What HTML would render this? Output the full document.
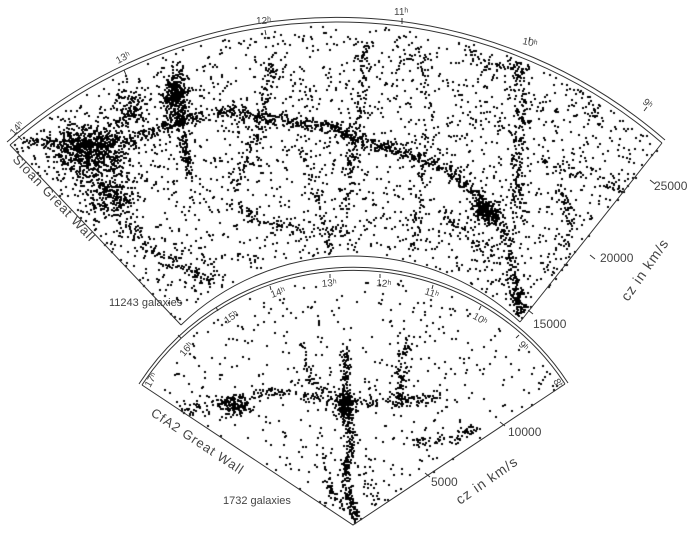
<!DOCTYPE html>
<html><head><meta charset="utf-8"><style>
html,body{margin:0;padding:0;background:#fff;}
#w{position:relative;width:694px;height:540px;overflow:hidden;}
canvas,svg{position:absolute;left:0;top:0;}
text{font-family:"Liberation Sans",sans-serif;fill:#444;}
</style></head><body><div id="w">
<canvas id="c" width="694" height="540"></canvas>
<svg width="694" height="540" viewBox="0 0 694 540">
<g fill="none" stroke="#333" stroke-width="1">
<path d="M10,145 A496.6,496.6 0 0 1 662,143"/>
<path d="M7,142 A499.6,499.6 0 0 1 665,140"/>
<path d="M181,325 A246.5,246.5 0 0 1 520,322"/>
<path d="M10,145 L181,325"/>
<path d="M662,143 L520,322"/>
<path d="M18,136 l4,4 M124,70 l2,5 M265,30 l1,5 M402,18 l0,6 M530,37 l-1,5 M647,107 l-3,4"/>
<path d="M650,180 l5,4 M590,255 l5,4 M528,310 l5,4"/>
<path d="M142,385 A253,253 0 0 1 565,384"/>
<path d="M139,384 A256,256 0 0 1 568,383"/>
<path d="M142,385 L353,525 L565,384"/>
<path d="M425,473 l5,4 M500,422 l5,4"/>
<path d="M330,274 l0,4 M380,274 l0,4 M270,286 l1,4 M433,285 l-1,4 M216,307 l2,4 M481,306 l-2,4 M178,335 l3,3 M519,335 l-3,3"/>
</g>
<g font-size="10">
<text transform="translate(14,136) rotate(-48)">14ʰ</text>
<text transform="translate(118,64) rotate(-28)">13ʰ</text>
<text x="256" y="24">12ʰ</text>
<text x="394" y="15">11ʰ</text>
<text transform="translate(522,44) rotate(12)">10ʰ</text>
<text transform="translate(642,103) rotate(40)">9ʰ</text>
<text transform="translate(150,388) rotate(-60)">17ʰ</text>
<text transform="translate(184,357) rotate(-50)">16ʰ</text>
<text transform="translate(227,324) rotate(-35)">15ʰ</text>
<text transform="translate(272,298) rotate(-20)">14ʰ</text>
<text transform="translate(322,287) rotate(-5)">13ʰ</text>
<text transform="translate(376,286) rotate(5)">12ʰ</text>
<text transform="translate(424,294) rotate(18)">11ʰ</text>
<text transform="translate(472,318) rotate(30)">10ʰ</text>
<text transform="translate(518,345) rotate(45)">9ʰ</text>
<text transform="translate(553,381) rotate(60)">8ʰ</text>
</g>
<g font-size="12">
<text transform="translate(12,160) rotate(46.5)" font-size="13" letter-spacing="1">Sloan Great Wall</text>
<text x="109" y="306" font-size="11">11243 galaxies</text>
<text x="654" y="190">25000</text>
<text x="600" y="262">20000</text>
<text x="533" y="328">15000</text>
<text transform="translate(628,302) rotate(-55)" font-size="14" letter-spacing="1">cz in km/s</text>
<text transform="translate(150,415) rotate(33.5)" font-size="13" letter-spacing="1">CfA2 Great Wall</text>
<text x="223" y="504" font-size="11">1732 galaxies</text>
<text x="508" y="436">10000</text>
<text x="431" y="486">5000</text>
<text transform="translate(460,505) rotate(-35)" font-size="14" letter-spacing="1">cz in km/s</text>
</g>
</svg>
</div>
<script>
var ctx=document.getElementById('c').getContext('2d');ctx.fillStyle='#000';
var s=12345;function r(){s=(s*1103515245+12345)%2147483648;return s/2147483648;}
function g(){return (r()+r()+r()-1.5)/1.5;}
function side(ax,ay,bx,by,x,y){return (bx-ax)*(y-ay)-(by-ay)*(x-ax);}
function inU(x,y){
 if(Math.hypot(x-336,y-518.6)>494)return false;
 if(Math.hypot(x-350.5,y-501.5)<249)return false;
 if(side(10,145,181,325,x,y)>0)return false;
 if(side(662,143,520,322,x,y)<0)return false;return true;}
function inL(x,y){
 if(Math.hypot(x-353,y-525)>250)return false;
 if(side(142,385,353,525,x,y)>0)return false;
 if(side(565,384,353,525,x,y)<0)return false;return true;}
function dot(x,y,f){if(f(x,y))ctx.fillRect(Math.round(x),Math.round(y),2,2);}
function bg(n,f,x0,y0,x1,y1){var k=0;while(k<n){var x=x0+r()*(x1-x0),y=y0+r()*(y1-y0);if(f(x,y)){dot(x,y,f);k++;}}}
function fil(pts,n,w,f){for(var i=0;i<pts.length-1;i++){var a=pts[i],b=pts[i+1];for(var j=0;j<n;j++){var t=r();dot(a[0]+(b[0]-a[0])*t+g()*w,a[1]+(b[1]-a[1])*t+g()*w,f);}}}
function blob(cx,cy,rx,ry,n,f){for(var i=0;i<n;i++)dot(cx+g()*rx,cy+g()*ry,f);}
bg(2200,inU,0,0,694,340);
blob(90,150,55,40,700,inU);blob(110,195,35,35,250,inU);blob(175,100,20,40,300,inU);
fil([[25,140],[80,145],[130,140],[180,120],[230,110],[280,120],[330,125],[360,140],[400,150],[450,170],[480,200],[505,230],[515,290],[520,310]],90,10,inU);
fil([[175,60],[180,130],[190,175]],80,9,inU);
fil([[270,60],[265,100],[255,140],[230,190]],40,10,inU);
fil([[365,40],[360,100],[350,160],[345,210]],50,10,inU);
fil([[415,40],[430,120],[420,200],[410,250]],35,12,inU);
fil([[515,50],[520,110],[515,160],[520,220]],70,12,inU);
fil([[470,55],[500,70],[530,60],[570,80],[600,120]],35,12,inU);
fil([[540,160],[600,180],[640,200]],30,10,inU);
fil([[560,190],[570,220],[560,280]],30,10,inU);
fil([[120,220],[150,250],[190,270],[210,280]],40,10,inU);
fil([[300,150],[320,200],[330,260]],30,10,inU);
fil([[230,200],[260,220],[300,230],[350,230]],30,10,inU);
fil([[440,210],[470,240],[500,260]],30,10,inU);
blob(485,210,22,18,150,inU);blob(130,110,25,30,120,inU);
bg(500,inL,140,270,570,525);
fil([[345,350],[345,400],[350,440],[345,480],[355,520]],90,8,inL);
fil([[180,410],[230,400],[280,390],[340,400],[400,400],[440,395]],50,9,inL);
blob(235,405,22,15,110,inL);blob(345,405,15,22,140,inL);
fil([[405,340],[400,380],[395,410]],45,9,inL);
fil([[300,345],[310,380],[330,395]],25,8,inL);
fil([[410,440],[450,440],[475,425]],35,9,inL);
fil([[320,450],[330,490],[345,510]],25,8,inL);
fil([[360,470],[380,510]],20,8,inL);
</script>
</body></html>
